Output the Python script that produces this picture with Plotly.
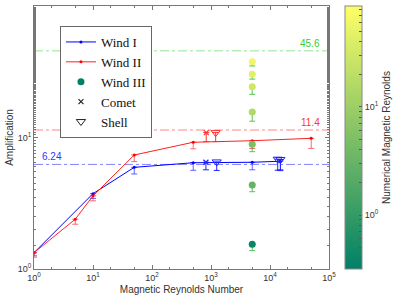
import numpy as np
import plotly.graph_objects as go

# ---- data ----
wind1_rm = [1, 10, 50, 500, 5000, 15000]
wind1_amp = [1.33, 3.74, 5.93, 6.43, 6.48, 6.6]
wind1_err = [0.07, 0.3, 0.65, 0.8, 0.8, 0.9]

wind2_rm = [1, 5, 10, 50, 500, 5000, 50000]
wind2_amp = [1.33, 2.39, 3.6, 7.36, 9.2, 9.45, 9.86]
wind2_err = [0.1, 0.2, 0.3, 0.8, 1.0, 1.2, 1.6]

wind3_rm = [5000, 5000, 5000, 5000, 5000, 5000, 5000]
wind3_amp = [37.7, 30.3, 24.3, 15.6, 8.9, 4.35, 1.54]
wind3_err = [2.7, 2.5, 3.0, 2.3, 1.1, 0.48, 0.16]
wind3_num_rm = [60, 45, 30, 16, 5, 3, 0.4]

comet_rm = [830, 820]
comet_amp = [10.9, 6.48]
comet_err = [1.6, 0.8]
comet_colors = ["#ff3030", "#2020ff"]

shell_rm = [1200, 1250, 13500, 15000]
shell_amp = [10.9, 6.52, 6.84, 6.8]
shell_err = [1.6, 0.9, 1.2, 1.2]
shell_colors = ["#ff3030", "#2020ff", "#2020ff", "#2020ff"]

ref_values = [6.24, 11.4, 45.6]
ref_colors = ["#3333ff", "#ff3333", "#33cc33"]

cb_min, cb_max = -0.5, 1.935
summer = [[0, "rgb(0,128,102)"], [1, "rgb(255,255,102)"]]

fig = go.Figure()

# reference lines
line_cols = ["rgba(80,80,255,0.7)", "rgba(255,80,80,0.7)", "rgba(120,220,120,0.8)"]
for v, lc in zip(ref_values, line_cols):
    fig.add_hline(y=v, line=dict(color=lc, width=1, dash="dashdot"), layer="below")

fig.add_trace(go.Scatter(
    x=wind1_rm, y=wind1_amp, mode="lines+markers", name="Wind I",
    line=dict(color="#0000ff", width=1), marker=dict(size=3, color="#0000ff"),
    error_y=dict(type="data", symmetric=False, array=[0]*len(wind1_err),
                 arrayminus=wind1_err, color="rgba(60,60,255,0.8)", thickness=1, width=3)))

fig.add_trace(go.Scatter(
    x=wind2_rm, y=wind2_amp, mode="lines+markers", name="Wind II",
    line=dict(color="#ff2020", width=1), marker=dict(size=3, color="#ff0000"),
    error_y=dict(type="data", symmetric=False, array=[0]*len(wind2_err),
                 arrayminus=wind2_err, color="rgba(255,70,70,0.8)", thickness=1, width=3)))

fig.add_trace(go.Scatter(
    x=wind3_rm, y=wind3_amp, mode="markers", name="Wind III", showlegend=False,
    marker=dict(size=7, color=np.log10(wind3_num_rm), colorscale=summer,
                cmin=cb_min, cmax=cb_max, showscale=True,
                colorbar=dict(
                    x=1.054, xanchor="left", xpad=0, y=0, yanchor="bottom", ypad=0, len=1,
                    thickness=17, outlinecolor="#888", outlinewidth=1,
                    tickvals=[0, 1] + [np.log10(k * 10.0**n) for n in (-1, 0, 1)
                                       for k in range(2, 10)
                                       if cb_min < np.log10(k * 10.0**n) < cb_max],
                    ticktext=["10<sup>0</sup>", "10<sup>1</sup>"] + [""] * 30,
                    ticks="inside", ticklen=3, tickcolor="#555",
                    tickfont=dict(size=9, color="#333", family="Liberation Sans"),
                    title=dict(text="Numerical Magnetic Reynolds", side="right",
                               font=dict(size=10, color="#333", family="Liberation Sans")))),
    error_y=dict(type="data", symmetric=False, array=[0]*len(wind3_err),
                 arrayminus=wind3_err, color="rgba(70,190,70,0.9)", thickness=1, width=3)))
fig.add_trace(go.Scatter(x=[None], y=[None], mode="markers", name="Wind III",
                         marker=dict(size=7, color="rgb(0,128,102)")))

for i in range(len(comet_rm)):
    fig.add_trace(go.Scatter(
        x=[comet_rm[i]], y=[comet_amp[i]], mode="markers", showlegend=False,
        marker=dict(symbol="x-thin", size=5, line=dict(color=comet_colors[i], width=1.2)),
        error_y=dict(type="data", symmetric=False, array=[0], arrayminus=[comet_err[i]],
                     color=comet_colors[i], thickness=1, width=3)))
fig.add_trace(go.Scatter(x=[None], y=[None], mode="markers", name="Comet",
                         marker=dict(symbol="x-thin", size=5, line=dict(color="#222", width=1.2))))

for i in range(len(shell_rm)):
    fig.add_trace(go.Scatter(
        x=[shell_rm[i]], y=[shell_amp[i]], mode="markers", showlegend=False,
        marker=dict(symbol="triangle-down-open", size=8, color=shell_colors[i], line=dict(width=1)),
        error_y=dict(type="data", symmetric=False, array=[0], arrayminus=[shell_err[i]],
                     color=shell_colors[i], thickness=1, width=3)))
fig.add_trace(go.Scatter(x=[None], y=[None], mode="markers", name="Shell",
                         marker=dict(symbol="triangle-down-open", size=8, color="#222", line=dict(width=1))))

# reference value labels
fig.add_annotation(x=0.02, y=np.log10(ref_values[0]), xref="paper", yref="y", text=f"{ref_values[0]}",
                   showarrow=False, xanchor="left", yanchor="bottom",
                   font=dict(size=10, color=ref_colors[0], family="Liberation Sans"))
fig.add_annotation(x=0.976, y=np.log10(ref_values[1]), xref="paper", yref="y", text=f"{ref_values[1]}",
                   showarrow=False, xanchor="right", yanchor="bottom",
                   font=dict(size=10, color=ref_colors[1], family="Liberation Sans"))
fig.add_annotation(x=0.976, y=np.log10(ref_values[2]), xref="paper", yref="y", text=f"{ref_values[2]}",
                   showarrow=False, xanchor="right", yanchor="bottom",
                   font=dict(size=10, color=ref_colors[2], family="Liberation Sans"))

axis_common = dict(type="log", showline=True, linecolor="#777", linewidth=1, mirror="allticks",
                   ticks="inside", ticklen=4, tickcolor="#777", showgrid=False, zeroline=False,
                   tickfont=dict(size=9, color="#333", family="Liberation Sans"),
                   minor=dict(ticks="inside", ticklen=2, tickcolor="#777", showgrid=False))

fig.update_layout(
    width=399, height=306,
    margin=dict(l=34, r=70, t=6, b=37, autoexpand=False),
    paper_bgcolor="white", plot_bgcolor="white",
    xaxis=dict(range=[0, 5], tickvals=[1, 10, 100, 1000, 10000, 100000],
               ticktext=[f"10<sup>{k}</sup>" for k in range(6)],
               title=dict(text="Magnetic Reynolds Number", standoff=4,
                          font=dict(size=10, color="#333", family="Liberation Sans")),
               **axis_common),
    yaxis=dict(range=[0, 2], tickvals=[1, 10, 100],
               ticktext=[f"10<sup>{k}</sup>" for k in range(3)],
               title=dict(text="Amplification", standoff=2,
                          font=dict(size=10, color="#333", family="Liberation Sans")),
               **axis_common),
    legend=dict(x=0.088, y=0.924, xanchor="left", yanchor="top",
                bgcolor="white", bordercolor="#666", borderwidth=1,
                font=dict(size=13, color="#111", family="Liberation Serif"),
                tracegroupgap=0, itemwidth=30),
    showlegend=True,
)

fig.write_html("out.html", config={"displayModeBar": False},
               post_script="document.body.style.margin='0';document.body.style.overflow='hidden';")
